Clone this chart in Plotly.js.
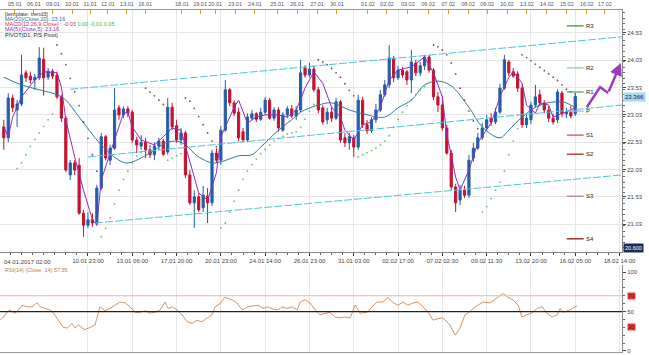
<!DOCTYPE html>
<html><head><meta charset="utf-8">
<script src="https://cdn.plot.ly/plotly-3.0.1.min.js"></script>
<style>html,body{margin:0;padding:0;background:#fff}#chart{width:649px;height:355px}</style>
</head><body><div id="chart"></div>
<script>
// ---- candles (bar index 0..129) ----
const opens = [
22.81,22.61,23.34,23.12,23.23,23.80,23.74,23.67,23.71,24.05,
23.72,23.83,23.76,23.36,22.97,21.93,22.15,22.11,21.23,21.01,
21.11,21.05,21.69,22.63,22.20,22.42,23.16,23.03,23.14,23.08,
22.57,22.46,22.53,22.39,22.30,22.46,22.55,22.35,23.17,22.83,
22.57,22.70,21.93,21.42,21.53,21.33,21.54,21.42,22.33,22.20,
22.75,23.49,23.25,23.08,22.72,22.57,22.97,23.05,22.95,23.08,
23.30,22.97,23.12,22.75,23.03,23.14,23.01,23.12,23.89,23.76,
23.87,23.49,23.16,22.94,23.08,22.97,23.27,22.61,22.52,22.61,
22.44,23.30,22.85,22.74,22.94,23.12,23.40,23.58,24.07,23.71,
23.85,23.82,23.67,23.98,23.80,23.93,24.09,23.85,23.36,23.21,
22.79,22.33,21.71,21.47,21.65,21.56,22.24,22.42,22.61,22.79,
22.97,22.90,23.08,23.52,24.00,23.82,23.78,23.52,22.85,22.94,
23.21,23.40,23.25,23.12,22.97,22.94,23.43,23.05,23.08,23.05];
const highs = [
22.94,23.43,23.40,23.30,24.13,23.85,23.82,23.78,24.27,24.26,
23.89,23.87,23.82,23.40,23.01,22.20,22.20,22.24,21.29,21.25,
21.23,21.75,22.70,22.66,22.48,23.52,23.21,23.19,23.19,23.12,
22.63,22.66,22.61,22.48,22.53,22.61,22.59,23.34,23.25,22.94,
22.79,22.74,22.02,21.65,21.60,21.73,21.69,22.39,22.42,22.83,
23.67,23.52,23.30,23.16,22.79,23.06,23.12,23.08,23.16,23.36,
23.34,23.17,23.17,23.08,23.19,23.21,23.19,24.04,23.94,23.98,
23.93,23.54,23.21,23.16,23.19,23.34,23.30,22.70,22.70,22.66,
23.40,23.36,22.94,22.99,23.23,23.49,23.67,24.31,24.11,23.93,
23.91,23.85,24.22,24.04,24.00,24.13,24.13,23.89,23.45,23.36,
22.85,22.39,21.77,21.75,21.73,22.30,22.52,22.70,22.88,23.03,
23.06,23.16,23.60,24.13,24.04,23.89,23.83,23.58,23.03,23.27,
23.58,23.49,23.30,23.19,23.05,23.50,23.47,23.16,23.19,23.41];
const lows = [
22.39,22.53,23.08,22.81,23.19,23.63,23.60,23.49,23.67,23.38,
23.67,23.69,23.32,22.90,21.98,21.84,21.93,21.20,20.80,20.96,
20.98,21.00,21.65,22.20,22.11,22.39,22.94,22.97,22.99,22.52,
22.33,22.39,22.24,22.24,22.20,22.39,22.28,22.30,22.75,22.52,
22.48,21.87,21.38,20.96,21.25,21.25,21.05,21.36,22.15,22.11,
22.72,23.19,23.01,22.55,22.53,22.53,22.94,22.90,22.92,23.03,
22.94,22.92,22.72,22.72,22.97,22.97,22.94,23.08,23.71,23.72,
23.45,23.06,22.85,22.86,22.90,22.94,22.52,22.44,22.39,22.26,
22.39,22.79,22.68,22.70,22.88,23.08,23.36,23.52,23.63,23.67,
23.71,23.58,23.43,23.74,23.74,23.85,23.80,23.30,23.08,22.74,
22.30,21.65,21.25,21.38,21.51,21.51,22.17,22.39,22.57,22.74,
22.83,22.86,23.05,23.49,23.74,23.71,23.45,22.79,22.79,22.86,
23.16,23.19,23.06,22.90,22.85,22.88,22.99,22.97,22.97,23.01];
const closes = [
22.61,23.34,23.16,23.23,23.76,23.71,23.67,23.72,24.07,23.71,
23.83,23.74,23.36,22.97,22.02,22.15,22.02,21.23,21.01,21.11,
21.05,21.69,22.63,22.24,22.42,23.12,23.03,23.14,23.06,22.57,
22.48,22.53,22.39,22.30,22.46,22.55,22.31,23.17,22.81,22.57,
22.70,21.93,21.42,21.53,21.29,21.56,21.42,22.33,22.20,22.75,
23.49,23.25,23.06,22.61,22.57,22.99,23.05,22.95,23.08,23.30,
22.97,23.12,22.79,23.03,23.14,23.01,23.12,23.80,23.76,23.87,
23.49,23.12,22.90,23.08,22.97,23.27,22.57,22.52,22.63,22.44,
23.30,22.85,22.74,22.94,23.12,23.40,23.58,24.07,23.71,23.85,
23.76,23.67,24.00,23.80,23.93,24.09,23.85,23.36,23.21,22.79,
22.33,21.71,21.42,21.65,21.56,22.20,22.42,22.61,22.79,22.94,
22.90,23.08,23.52,24.04,23.80,23.74,23.52,22.85,22.97,23.21,
23.36,23.25,23.12,22.97,22.90,23.45,23.05,23.08,23.01,23.37];
const barIdx = closes.map((_, i) => i);

// ---- moving averages (read at sample bars) ----
const slowMaX = [0,4,8,12,14,17,22,26,28,33,37,40,44,47,49,53,56,58,62,65,67,71,74,78,82,86,89,92,95,98,101,105,108,112,114,117,121,126,128,129];
const slowMaV = [23.72,23.58,23.49,23.40,23.30,22.99,22.48,22.20,22.15,22.33,22.53,22.53,22.26,22.15,22.17,22.28,22.30,22.44,22.75,22.94,23.08,23.21,23.25,23.12,23.03,22.99,23.16,23.30,23.58,23.65,23.56,23.17,22.81,22.61,22.75,22.99,23.21,23.27,23.21,23.16];
const fastMaX = [0,1,2,4,7,9,12,13,14,16,18,20,21,22,25,27,28,29,31,34,36,38,40,42,44,46,48,49,52,53,55,57,59,62,64,66,68,70,72,74,76,77,79,81,83,85,87,89,92,95,97,99,100,101,102,103,105,107,110,112,114,115,117,118,120,121,123,124,126,127,129];
const fastMaV = [22.81,22.63,22.99,23.36,23.67,23.82,23.80,23.54,22.94,22.26,21.65,21.11,21.01,21.84,22.57,23.06,23.08,22.81,22.57,22.48,22.63,22.79,22.75,22.15,21.60,21.47,21.97,22.63,23.17,23.30,22.88,22.99,23.03,23.03,22.99,23.12,23.52,23.82,23.61,23.17,22.99,22.75,22.57,22.85,22.90,23.17,23.67,23.85,23.91,24.09,23.80,23.36,22.66,22.30,21.89,21.65,22.02,22.52,22.88,23.36,23.72,23.82,23.61,23.21,23.06,23.25,23.21,22.99,23.06,23.08,23.16];

// ---- parabolic SAR dots ----
const N = null;
const sarBelow = [
N,N,N,22.05,22.15,22.30,22.45,22.58,22.70,22.82,
22.94,23.05,N,N,N,N,N,N,N,N,
N,N,20.80,20.95,21.15,21.40,21.65,21.85,22.00,22.15,
22.28,22.35,N,N,N,N,N,22.20,22.24,22.28,
22.32,N,N,N,N,N,N,N,N,20.96,
21.05,21.25,21.45,21.65,21.85,22.00,22.12,22.22,22.32,22.40,
22.48,22.55,22.60,22.64,22.68,22.70,22.72,22.80,22.95,23.10,
23.22,N,N,N,N,N,N,N,N,N,
22.26,22.30,22.34,22.38,22.42,22.48,22.55,22.65,22.80,22.95,
23.08,23.20,23.30,23.40,23.48,23.55,23.62,N,N,N,
N,N,N,N,N,N,N,N,21.25,21.35,
21.50,21.65,21.80,22.00,22.30,22.55,22.78,N,N,N,
N,N,N,N,N,N,N,N,N,N];
const sarAbove = [
N,N,N,N,N,N,N,N,N,N,
N,N,24.31,24.15,23.95,23.70,23.45,23.20,22.90,22.60,
22.30,22.00,N,N,N,N,N,N,N,N,
N,N,23.52,23.45,23.38,23.30,23.22,N,N,N,
N,23.34,23.28,23.15,23.00,22.85,22.70,22.55,22.45,N,
N,N,N,N,N,N,N,N,N,N,
N,N,N,N,N,N,N,N,N,N,
N,24.04,24.00,23.95,23.88,23.80,23.72,23.60,23.48,23.38,
N,N,N,N,N,N,N,N,N,N,
N,N,N,N,N,N,N,24.31,24.28,24.22,
24.13,23.98,23.78,23.52,23.30,23.10,22.92,22.78,N,N,
N,N,N,N,N,N,N,24.13,24.08,24.02,
23.96,23.90,23.84,23.78,23.72,23.66,23.58,23.50,23.45,23.42];

// ---- channel lines ----
const channelStartX = [15, 19, 20.6];
const channelStartY = [23.50, 22.26, 21.05];
const channelEndX = [139.5, 139.5, 139.5];
const channelEndY = [24.46, 23.21, 21.93];

// ---- pivot levels ----
const pivotNames = ['R3','R2','R1','P','S1','S2','S3','S4'];
const pivotValues = [24.66, 23.89, 23.45, 23.10, 22.66, 22.31, 21.54, 20.76];
const pivotColors = ['#2e8b2e','#86d086','#3cb43c','#9ab4d0','#d04545','#a01818','#b07a7a','#8b0000'];

// ---- forecast arrow ----
const arrowX = [131.6, 134.6, 136.4];
const arrowY = [23.17, 23.54, 23.43];
const arrowTip = [139.3, 23.98];

// ---- RSI ----
const rsiX = [-0.9,-0.2,0.7,1.4,2.5,3.2,4.1,5.2,6.4,7.5,8.2,9.3,10.4,11.1,12.0,12.7,13.4,14.3,15.4,16.1,16.8,17.7,18.3,19.5,20.6,21.7,22.8,24.0,25.1,26.2,27.4,28.5,29.6,30.7,31.9,33.0,34.1,35.3,36.4,37.1,38.0,39.1,40.2,41.4,42.5,43.6,44.7,45.9,47.0,47.7,48.8,49.9,51.5,52.6,53.8,55.1,56.3,57.4,58.5,59.6,60.8,61.9,62.8,63.9,65.1,66.2,66.9,68.0,69.1,70.3,71.4,72.5,73.6,74.8,75.9,77.0,78.2,79.3,80.4,82.0,83.1,84.2,85.6,86.7,87.9,89.0,90.1,91.2,92.4,93.5,94.6,95.8,96.9,98.0,99.1,100.7,101.9,103.0,104.1,104.8,106.4,108.2,109.8,111.3,112.7,113.8,114.9,116.1,117.0,118.1,119.2,120.4,121.5,122.6,123.8,124.9,125.6,126.2,127.8,129.4];
const rsiV = [39,42,49,52,48,51,58,56,56,61,56,54,52,49,42,37,30,29,35,29,33,29,27,30,33,56,51,54,58,62,61,56,49,49,51,48,49,52,62,54,56,52,46,37,35,39,37,42,46,56,60,68,65,61,52,56,57,58,54,56,53,52,56,54,56,52,62,65,61,52,46,48,49,43,42,43,42,58,48,49,56,62,62,68,61,58,62,58,61,62,56,49,39,41,42,33,20,29,46,48,56,62,61,67,73,68,65,58,43,46,48,54,56,48,43,46,54,49,52,57.35];

// ---- axis labels ----
const priceTicks = [21.03,21.53,22.03,22.53,23.03,23.53,24.03,24.53];
const bottomTickIdx = [19,29,39,49,59,69,79,89,99,109,119,129,139];
const bottomTickText = ['10.01 23:00','13.01 06:00','17.01 20:00','20.01 23:00','24.01 14:00','26.01 23:00','31.01 03:00','02.02 17:00','07.02 02:30','09.02 11:30','13.02 20:00','16.02 05:00','18.02 14:00'];
const dayIdx = [2.5,6.8,11.1,15.4,19.5,23.5,27.8,31.9,40.2,44.3,47.7,52.2,56.7,61.7,66.2,70.7,75.2,82.2,86.5,91.2,95.8,100.3,104.8,109.1,113.6,118.1,122.6,127.1,131.6,135.7];
const dayText = ['05.01','06.01','09.01','10.01','11.01','12.01','13.01','16.01','18.01','19.01','20.01','23.01','24.01','25.01','26.01','27.01','30.01','01.02','02.02','03.02','06.02','07.02','08.02','09.02','10.02','13.02','14.02','15.02','16.02','17.02'];
const lastPrice = 23.366;

const XR = [-0.86, 139.55];
const FONT = 'Liberation Sans, Arial, sans-serif';

const traces = [];
traces.push({type:'candlestick', x:barIdx, open:opens, high:highs, low:lows, close:closes,
  increasing:{line:{color:'#1f5fa8', width:1}, fillcolor:'#1f5fa8'},
  decreasing:{line:{color:'#c41230', width:1}, fillcolor:'#c41230'},
  whiskerwidth:0, xaxis:'x', yaxis:'y', hoverinfo:'skip'});
traces.push({type:'scatter', mode:'lines', x:slowMaX, y:slowMaV, line:{color:'#2a7c9c', width:1, shape:'spline'}, xaxis:'x', yaxis:'y', hoverinfo:'skip'});
traces.push({type:'scatter', mode:'lines', x:fastMaX, y:fastMaV, line:{color:'#8e2bc8', width:1}, xaxis:'x', yaxis:'y', hoverinfo:'skip'});
traces.push({type:'scatter', mode:'markers', x:barIdx, y:sarBelow, marker:{color:'#6cc06c', size:1.8}, xaxis:'x', yaxis:'y', hoverinfo:'skip'});
traces.push({type:'scatter', mode:'markers', x:barIdx, y:sarAbove, marker:{color:'#8a4a4a', size:1.8}, xaxis:'x', yaxis:'y', hoverinfo:'skip'});
for (let k = 0; k < channelStartX.length; k++) {
  traces.push({type:'scatter', mode:'lines', x:[channelStartX[k], channelEndX[k]], y:[channelStartY[k], channelEndY[k]],
    line:{color:'#4cc4dc', width:1, dash:'8px,2px'}, xaxis:'x', yaxis:'y', hoverinfo:'skip'});
}
traces.push({type:'scatter', mode:'lines', x:arrowX, y:arrowY, line:{color:'#9b3cc0', width:2.5}, xaxis:'x', yaxis:'y', hoverinfo:'skip', cliponaxis:false});
traces.push({type:'scatter', mode:'lines', x:XR, y:[null,null], xaxis:'x2', yaxis:'y', hoverinfo:'skip', showlegend:false});
traces.push({type:'scatter', mode:'lines', x:rsiX, y:rsiV, line:{color:'#c8783c', width:0.8}, xaxis:'x3', yaxis:'y3', hoverinfo:'skip'});

const shapes = pivotValues.map((v, k) => ({type:'line', xref:'x', yref:'y', x0:127.1, x1:130.9, y0:v, y1:v, line:{color:pivotColors[k], width:1.2}}));
shapes.push({type:'line', xref:'x3', yref:'y3', x0:XR[0], x1:XR[1], y0:70, y1:70, line:{color:'#f2b4a6', width:1}});
shapes.push({type:'line', xref:'x3', yref:'y3', x0:XR[0], x1:XR[1], y0:50, y1:50, line:{color:'#222', width:1.3}});

const annotations = [];
pivotNames.forEach((n, k) => annotations.push({x:131.0, y:pivotValues[k], xref:'x', yref:'y', text:n, showarrow:false, xanchor:'left', yanchor:'middle', font:{size:6, color:'#222', family:FONT}}));
annotations.push({x:arrowTip[0], y:arrowTip[1], ax:arrowX[2], ay:arrowY[2], xref:'x', yref:'y', axref:'x', ayref:'y', showarrow:true, arrowhead:2, arrowsize:1, arrowwidth:2.5, arrowcolor:'#9b3cc0', text:''});
annotations.push({x:1, y:lastPrice, xref:'paper', yref:'y', text:lastPrice.toFixed(3), showarrow:false, xanchor:'left', yanchor:'middle', xshift:1, bgcolor:'#a8d8f0', font:{size:6, color:'#0a2a5a', family:FONT}, borderpad:1});
annotations.push({x:1, y:0.304, xref:'paper', yref:'paper', text:'20.600', showarrow:false, xanchor:'left', yanchor:'middle', xshift:1, bgcolor:'#1c2c5c', font:{size:5.5, color:'#fff', family:FONT}, borderpad:1});
annotations.push({x:1, y:70, xref:'paper', yref:'y3', text:'70', showarrow:false, xanchor:'left', yanchor:'middle', xshift:5, bgcolor:'#e04040', font:{size:6, color:'#6a0000', family:FONT}, borderpad:0});
annotations.push({x:1, y:30, xref:'paper', yref:'y3', text:'30', showarrow:false, xanchor:'left', yanchor:'middle', xshift:5, bgcolor:'#e04040', font:{size:6, color:'#6a0000', family:FONT}, borderpad:0});
annotations.push({x:0.003, y:0.263, xref:'paper', yref:'paper', text:'04.01.2017 02:00', showarrow:false, xanchor:'left', yanchor:'middle', font:{size:6, color:'#444', family:FONT}});
const legendLines = [
  {t:'[template: trend3]', c:'#333', y:0.988},
  {t:'MA(20)(Close,20): 23.16', c:'#2a6ca8', y:0.973},
  {t:'MACD(12,26,9,Close) : -0.03 <span style="color:#3cb43c">0.00 -0.01 0.05</span>', c:'#d03030', y:0.958},
  {t:'MA(5)(Close,5): 23.16', c:'#8e2bc8', y:0.943},
  {t:'PIVOT(D1, P/S Pivot)', c:'#222', y:0.928}];
legendLines.forEach(l => annotations.push({x:0.005, y:l.y, xref:'paper', yref:'paper', text:l.t, showarrow:false, xanchor:'left', yanchor:'middle', font:{size:5.5, color:l.c, family:FONT}}));
annotations.push({x:0.005, y:0.240, xref:'paper', yref:'paper', text:'RSI(14) (Close, 14) 57.35', showarrow:false, xanchor:'left', yanchor:'middle', font:{size:5.5, color:'#c8783c', family:FONT}});

const layout = {
  width:649, height:355, margin:{l:0, r:27, t:10, b:3},
  paper_bgcolor:'#fff', plot_bgcolor:'#fff', showlegend:false,
  font:{family:FONT, size:6, color:'#333'},
  xaxis:{domain:[0,1], range:XR, anchor:'y', tickmode:'array', tickvals:bottomTickIdx, ticktext:bottomTickText, tickangle:0,
    ticks:'outside', ticklen:3, tickcolor:'#333', tickfont:{size:6, color:'#444'}, showgrid:true, gridcolor:'#e6e6e6',
    showline:true, linecolor:'#888', zeroline:false, rangeslider:{visible:false}, fixedrange:true,
    minor:{ticks:'outside', ticklen:2, tick0:19, dtick:2.5, tickcolor:'#666', showgrid:false}},
  xaxis2:{overlaying:'x', side:'top', anchor:'y', range:XR, tickmode:'array', tickvals:dayIdx, ticktext:dayText, tickangle:0,
    ticks:'inside', ticklen:4, tickwidth:1, tickcolor:'#d4a017', tickfont:{size:5.5, color:'#555'}, showgrid:false,
    showline:true, linecolor:'#999', zeroline:false, ticklabelstandoff:1},
  xaxis3:{domain:[0,1], anchor:'y3', matches:'x', showticklabels:false, ticks:'', showgrid:true, gridcolor:'#e6e6e6',
    tickmode:'array', tickvals:bottomTickIdx, showline:true, linecolor:'#999', zeroline:false, rangeslider:{visible:false}},
  yaxis:{domain:[0.2924,1], range:[20.519,24.951], anchor:'x', side:'right', tickmode:'array', tickvals:priceTicks,
    ticktext:priceTicks.map(v => v.toFixed(2)), ticks:'outside', ticklen:3, tickcolor:'#444', tickfont:{size:6, color:'#444'},
    showgrid:true, gridcolor:'#e6e6e6', showline:true, linecolor:'#888', zeroline:false,
    minor:{ticks:'outside', ticklen:2, dtick:0.1, tickcolor:'#666', showgrid:false}},
  yaxis3:{domain:[0,0.2544], range:[-1.3,109], anchor:'x3', side:'right', tickmode:'array', tickvals:[0,50,100],
    ticktext:['0','50','100'], ticks:'outside', ticklen:3, tickcolor:'#444', tickfont:{size:6, color:'#444'},
    showgrid:false, showline:true, linecolor:'#888', zeroline:false,
    minor:{ticks:'outside', ticklen:2, dtick:10, tickcolor:'#666'}},
  shapes:shapes, annotations:annotations
};
Plotly.newPlot('chart', traces, layout, {staticPlot:true, displayModeBar:false});
</script></body></html>
